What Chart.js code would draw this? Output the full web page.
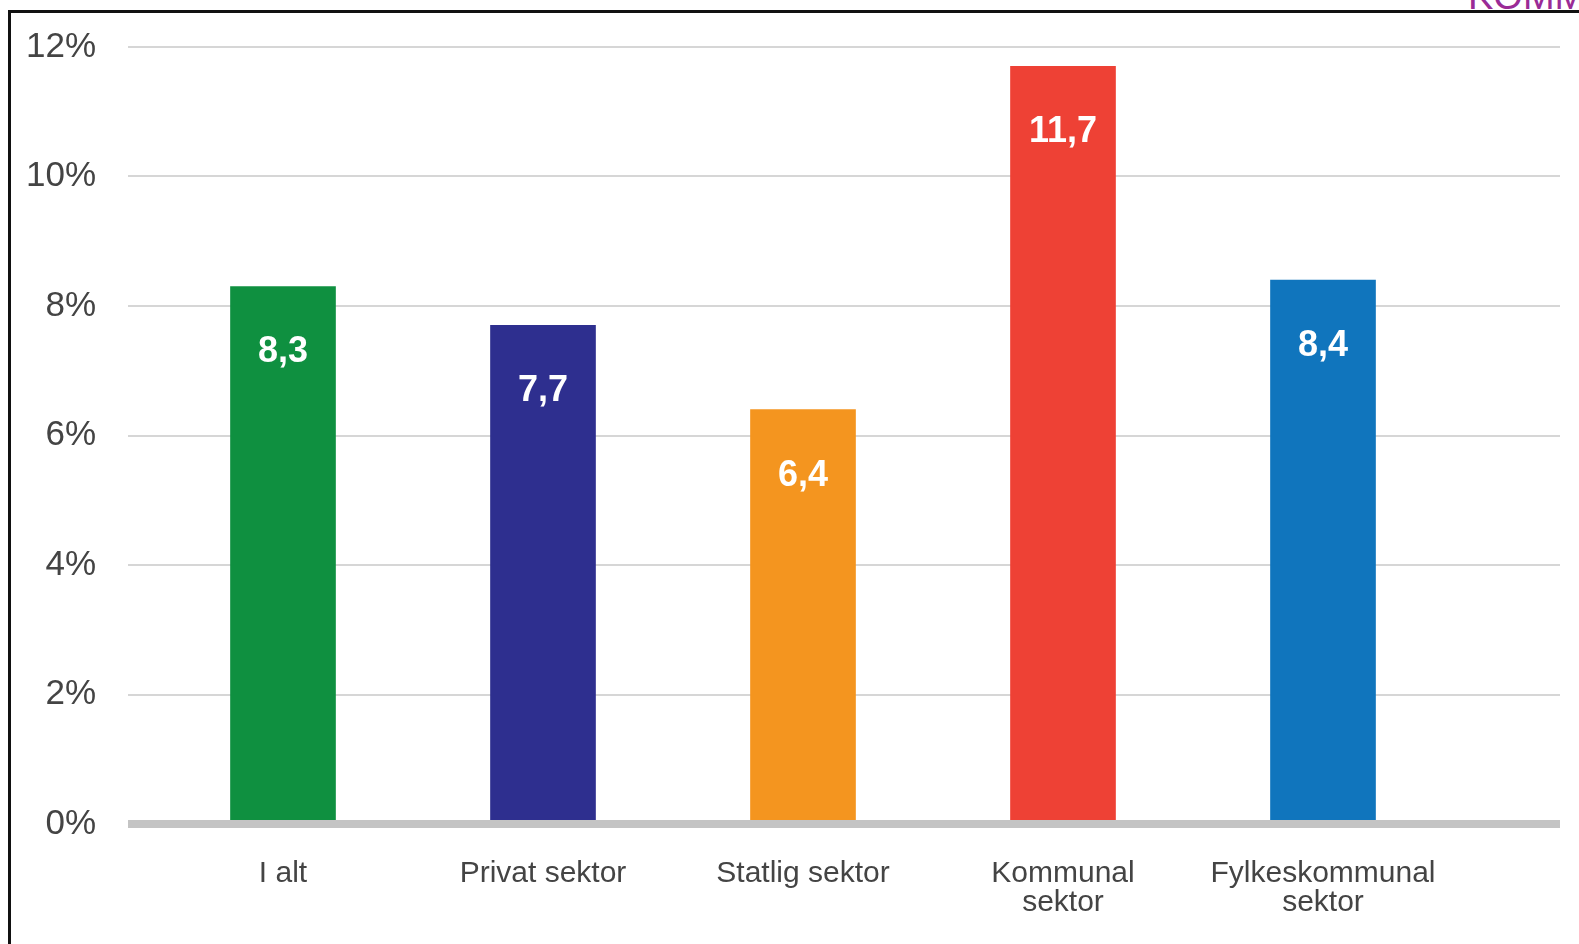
<!DOCTYPE html>
<html>
<head>
<meta charset="utf-8">
<title>Sektorer</title>
<script src="https://cdn.jsdelivr.net/npm/chart.js@4/dist/chart.umd.min.js"></script>
<style>
    html, body {
        margin: 0;
        padding: 0;
        background: #fff;
        overflow: hidden;
    }
    .wrap {
        position: relative;
        width: 1579px;
        height: 944px;
    }
    .frame {
        position: absolute;
        left: 8px;
        top: 10px;
        right: 0;
        bottom: 0;
        border-top: 3px solid #111;
        border-left: 3px solid #111;
    }
    .corner-title {
        position: absolute;
        left: 1468px;
        top: -23px;
        font-family: "Liberation Sans", Arial, sans-serif;
        font-size: 38px;
        line-height: 38px;
        color: #9a2b96;
        white-space: nowrap;
    }
    canvas {
        position: absolute;
        left: 0;
        top: 0;
    }
</style>
</head>
<body>
<div class="wrap">
    <div class="frame"></div>
    <div class="corner-title">KOMM</div>
    <canvas id="sektorChart" width="1579" height="944"></canvas>
</div>
<script>
// Data
const categories = ['I alt', 'Privat sektor', 'Statlig sektor', ['Kommunal', 'sektor'], ['Fylkeskommunal', 'sektor']];
const values = [8.3, 7.7, 6.4, 11.7, 8.4];
const barColors = ['#0f9040', '#2e2f8f', '#f4951f', '#ee4135', '#1075bd'];
const yTicks = [0, 2, 4, 6, 8, 10, 12];

const gridLeft = 128;
const gridRight = 1560;

// Horisontale linjer tegnes bredere enn selve plottområdet
const gridPlugin = {
    id: 'gridLines',
    beforeDatasetsDraw(chart) {
        const ctx = chart.ctx;
        const y = chart.scales.y;
        ctx.save();
        ctx.strokeStyle = '#d6d6d6';
        ctx.lineWidth = 2;
        yTicks.forEach(t => {
            if (t === 0) return;
            const py = Math.round(y.getPixelForValue(t));
            ctx.beginPath();
            ctx.moveTo(gridLeft, py);
            ctx.lineTo(gridRight, py);
            ctx.stroke();
        });
        ctx.restore();
    },
    afterDatasetsDraw(chart) {
        const ctx = chart.ctx;
        const y = chart.scales.y;
        const py = y.getPixelForValue(0);
        ctx.save();
        ctx.strokeStyle = '#c4c4c4';
        ctx.lineWidth = 8;
        ctx.beginPath();
        ctx.moveTo(gridLeft, py);
        ctx.lineTo(gridRight, py);
        ctx.stroke();

        // verdier inne i søylene
        const meta = chart.getDatasetMeta(0);
        ctx.fillStyle = '#fff';
        ctx.font = 'bold 36px "Liberation Sans", Arial, sans-serif';
        ctx.textAlign = 'center';
        ctx.textBaseline = 'middle';
        meta.data.forEach((bar, i) => {
            const txt = values[i].toFixed(1).replace('.', ',');
            ctx.fillText(txt, bar.x, bar.y + 66);
        });
        ctx.restore();
    }
};

const ctx = document.getElementById('sektorChart').getContext('2d');
new Chart(ctx, {
    type: 'bar',
    data: {
        labels: categories,
        datasets: [{
            data: values,
            backgroundColor: barColors,
            borderWidth: 0,
            barThickness: 105
        }]
    },
    options: {
        responsive: false,
        animation: false,
        layout: {
            padding: { left: 0, right: 126, top: 47, bottom: 0 }
        },
        plugins: {
            legend: { display: false },
            tooltip: { enabled: false }
        },
        scales: {
            x: {
                afterFit(scale) {
                    scale.height = 120;
                },
                grid: { display: false, drawTicks: false },
                border: { display: false },
                ticks: {
                    color: '#444',
                    padding: 35,
                    maxRotation: 0,
                    autoSkip: false,
                    font: { family: '"Liberation Sans", Arial, sans-serif', size: 30, lineHeight: 0.97 }
                }
            },
            y: {
                min: 0,
                max: 12,
                afterFit(scale) {
                    scale.width = 153;
                    // tick-padding skal ikke gi ekstra luft over/under
                    scale.paddingTop = 0;
                    scale.paddingBottom = 0;
                },
                afterBuildTicks(scale) {
                    scale.ticks = yTicks.map(v => ({ value: v }));
                },
                grid: { display: false, drawTicks: false },
                border: { display: false },
                ticks: {
                    color: '#444',
                    padding: 57,
                    callback: v => v + '%',
                    font: { family: '"Liberation Sans", Arial, sans-serif', size: 35 }
                }
            }
        }
    },
    plugins: [gridPlugin]
});
</script>
</body>
</html>
